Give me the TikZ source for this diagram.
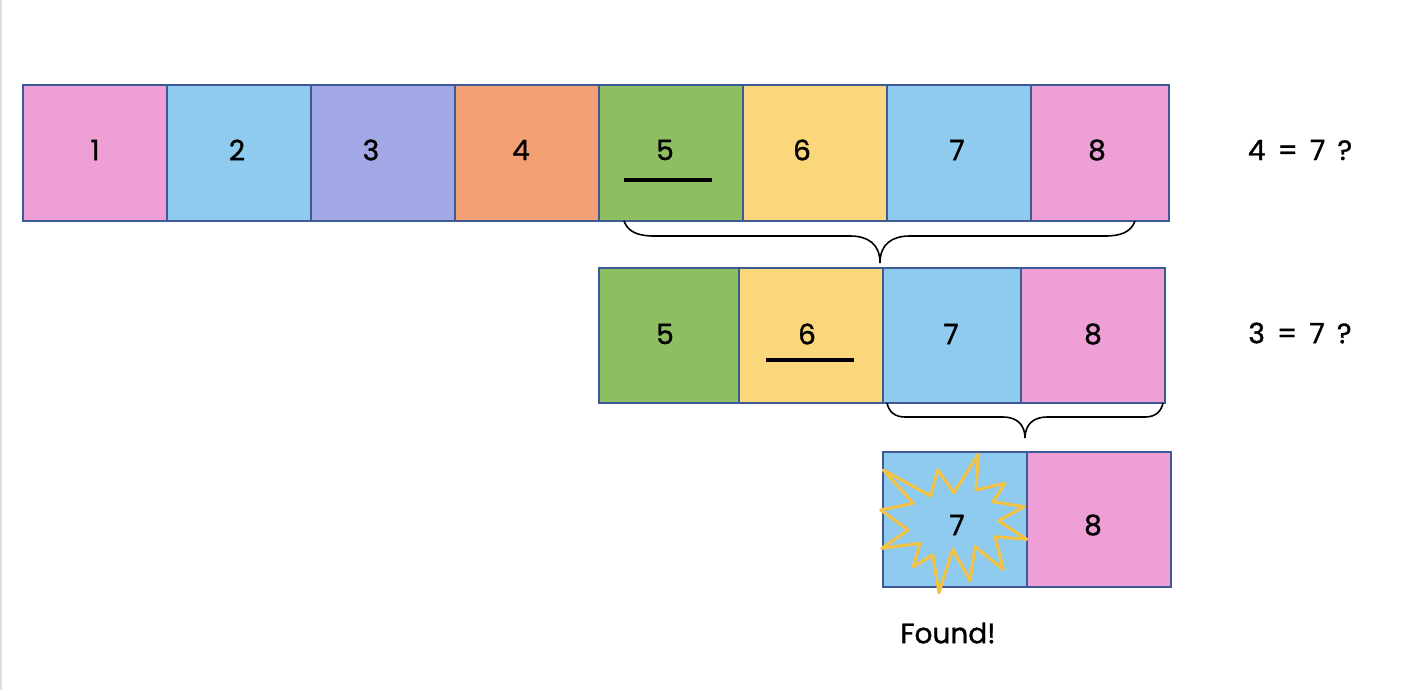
\documentclass[tikz,border=0pt]{standalone}
\usepackage{fontspec}
\setmainfont{Poppins}[FakeBold=1.2]
\begin{document}
\begin{tikzpicture}[x=1pt,y=-1pt,
  cellbox/.style={draw=borderc, line width=2pt, inner sep=0pt},
  numlabel/.style={font=\fontsize{28}{30}\selectfont, inner sep=0pt, text=black},
  sidelabel/.style={font=\fontsize{28}{30}\selectfont, inner sep=0pt, text=black},
  bracec/.style={draw=black, line width=1.6pt},
  underl/.style={draw=black, line width=4pt},
  burst/.style={draw=burstc, line width=3pt, line join=round}]
\definecolor{borderc}{HTML}{3D5A96}
\definecolor{pinkc}{HTML}{EE9FD6}
\definecolor{bluec}{HTML}{8FCBEE}
\definecolor{purplec}{HTML}{A2A8E5}
\definecolor{orangec}{HTML}{F2A074}
\definecolor{greenc}{HTML}{8DBF60}
\definecolor{yellowc}{HTML}{F9D77A}
\definecolor{burstc}{HTML}{F5C242}
\definecolor{edgec}{HTML}{DDDDDD}
\useasboundingbox (0,0) rectangle (1404,690);
\fill[edgec] (0,0) rectangle (2,690);
% row 1
\node[cellbox, fill=pinkc,   minimum width=144pt, minimum height=136pt] (a1) at (95,153) {};
\node[cellbox, fill=bluec,   minimum width=144pt, minimum height=136pt] (a2) at (239,153) {};
\node[cellbox, fill=purplec, minimum width=144pt, minimum height=136pt] (a3) at (383,153) {};
\node[cellbox, fill=orangec, minimum width=144pt, minimum height=136pt] (a4) at (527,153) {};
\node[cellbox, fill=greenc,  minimum width=144pt, minimum height=136pt] (a5) at (671,153) {};
\node[cellbox, fill=yellowc, minimum width=144pt, minimum height=136pt] (a6) at (815,153) {};
\node[cellbox, fill=bluec,   minimum width=144pt, minimum height=136pt] (a7) at (959,153) {};
\node[cellbox, fill=pinkc,   minimum width=138pt, minimum height=136pt] (a8) at (1100,153) {};
\node[numlabel] (t1) at (95,150) {1};
\node[numlabel] (t2) at (237,150) {2};
\node[numlabel] (t3) at (371,150) {3};
\node[numlabel] (t4) at (521,150) {4};
\node[numlabel] (t5) at (665,150) {5};
\node[numlabel] (t6) at (802,150) {6};
\node[numlabel] (t7) at (957,150) {7};
\node[numlabel] (t8) at (1097,150) {8};
\coordinate (u1a) at (624,180); \coordinate (u1b) at (712,180);
\draw[underl] (u1a) -- (u1b);
\node[sidelabel] (q1) at (1300,150) {4 \,=\, 7 \,?};
% brace 1
\coordinate (b1l) at (624,221); \coordinate (b1t) at (880,263); \coordinate (b1r) at (1135,221);
\draw[bracec] (b1l) .. controls (628,232) and (638,236) .. (654,236) -- (850,236)
  .. controls (868,236) and (880,244) .. (b1t)
  .. controls (880,244) and (892,236) .. (910,236) -- (1105,236)
  .. controls (1121,236) and (1131,232) .. (b1r);
% row 2
\node[cellbox, fill=greenc,  minimum width=140pt, minimum height=135pt] (c5) at (669,335) {};
\node[cellbox, fill=yellowc, minimum width=144pt, minimum height=135pt] (c6) at (811,335) {};
\node[cellbox, fill=bluec,   minimum width=138pt, minimum height=135pt] (c7) at (952,335) {};
\node[cellbox, fill=pinkc,   minimum width=144pt, minimum height=135pt] (c8) at (1093,335) {};
\node[numlabel] (s5) at (665,334) {5};
\node[numlabel] (s6) at (807,334) {6};
\node[numlabel] (s7) at (951,334) {7};
\node[numlabel] (s8) at (1093,334) {8};
\coordinate (u2a) at (766,360); \coordinate (u2b) at (854,360);
\draw[underl] (u2a) -- (u2b);
\node[sidelabel] (q2) at (1300,333) {3 \,=\, 7 \,?};
% brace 2
\coordinate (b2l) at (887,403); \coordinate (b2t) at (1025,438); \coordinate (b2r) at (1163,403);
\draw[bracec] (b2l) .. controls (889,412) and (895,417) .. (905,417) -- (1003,417)
  .. controls (1016,417) and (1025,424) .. (b2t)
  .. controls (1025,424) and (1034,417) .. (1047,417) -- (1145,417)
  .. controls (1155,417) and (1161,412) .. (b2r);
% row 3
\node[cellbox, fill=bluec, minimum width=144pt, minimum height=135pt] (d7) at (955,519) {};
\node[cellbox, fill=pinkc, minimum width=144pt, minimum height=135pt] (d8) at (1099,519) {};
\draw[burst] (883.3,470) -- (930.7,496) -- (937.7,470) -- (954,492.7) -- (978.3,454.3)
  -- (976,490) -- (1005,483.3) -- (992.7,501.7) -- (1024.3,506.7) -- (998.3,520.7)
  -- (1026.7,539.3) -- (995,536.7) -- (1003.3,569.3) -- (975,546.7) -- (970,580.7)
  -- (952.7,549.3) -- (939,592.7) -- (932.7,555) -- (913.3,566.7) -- (920,543.3)
  -- (881.7,548.3) -- (908.3,530) -- (880.7,510) -- (913.3,503.3) -- cycle;
\node[numlabel] (r7) at (957,525) {7};
\node[numlabel] (r8) at (1093,525) {8};
\node[sidelabel] (found) at (948,633) {Found!};
\end{tikzpicture}
\end{document}
